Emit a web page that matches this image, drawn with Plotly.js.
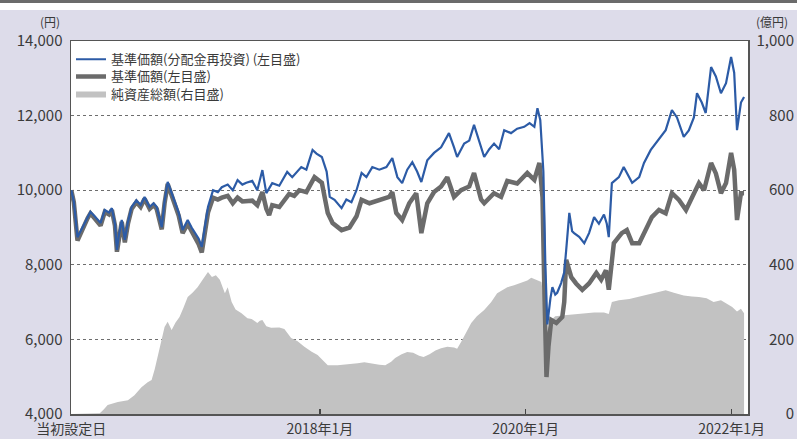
<!DOCTYPE html>
<html><head><meta charset="utf-8">
<script src="https://cdn.plot.ly/plotly-3.0.1.min.js"></script>
<style>
html,body{margin:0;padding:0;background:#fff;}
#wrap{width:797px;height:439px;overflow:hidden;}
#topline{height:3px;background:#6b6b6b;}
#gap{height:7px;background:#ffffff;}
#chart{width:797px;height:429px;}
</style></head>
<body>
<div id="wrap"><div id="topline"></div><div id="gap"></div><div id="chart"></div></div>
<script>
// 基準価額（分配金再投資）
const reinvDates = ['2015-08-03','2015-08-12','2015-08-25','2015-09-05','2015-09-15','2015-09-30','2015-10-10','2015-10-25','2015-11-05','2015-11-15','2015-11-30','2015-12-15','2015-12-25','2016-01-05','2016-01-12','2016-01-19','2016-01-29','2016-02-09','2016-02-20','2016-03-04','2016-03-21','2016-04-05','2016-04-19','2016-05-07','2016-05-21','2016-06-01','2016-06-19','2016-06-29','2016-07-10','2016-07-20','2016-08-04','2016-08-18','2016-09-01','2016-09-19','2016-10-03','2016-10-14','2016-10-28','2016-11-08','2016-11-19','2016-11-30','2016-12-18','2017-01-04','2017-01-18','2017-02-08','2017-02-26','2017-03-15','2017-04-01','2017-04-15','2017-05-06','2017-05-24','2017-06-11','2017-06-25','2017-07-16','2017-08-10','2017-09-07','2017-09-25','2017-10-27','2017-11-14','2017-12-06','2017-12-20','2018-01-08','2018-01-25','2018-02-05','2018-02-22','2018-03-19','2018-04-05','2018-04-23','2018-05-11','2018-05-29','2018-06-15','2018-07-06','2018-07-31','2018-08-25','2018-09-15','2018-10-03','2018-10-20','2018-11-07','2018-11-25','2018-12-12','2018-12-27','2019-01-17','2019-02-10','2019-03-07','2019-04-04','2019-04-22','2019-05-03','2019-05-28','2019-06-15','2019-07-02','2019-07-20','2019-08-07','2019-08-25','2019-09-11','2019-09-29','2019-10-17','2019-11-10','2019-12-02','2019-12-27','2020-01-15','2020-02-01','2020-02-12','2020-02-22','2020-03-04','2020-03-11','2020-03-18','2020-03-29','2020-04-05','2020-04-15','2020-04-22','2020-05-06','2020-05-17','2020-05-24','2020-06-04','2020-06-14','2020-06-21','2020-07-09','2020-07-27','2020-08-13','2020-08-31','2020-09-17','2020-10-05','2020-10-15','2020-10-22','2020-11-02','2020-11-27','2020-12-14','2021-01-03','2021-01-13','2021-02-07','2021-02-24','2021-03-20','2021-04-07','2021-04-25','2021-05-12','2021-06-03','2021-06-21','2021-07-15','2021-08-02','2021-08-20','2021-08-31','2021-09-17','2021-10-01','2021-10-20','2021-11-06','2021-11-24','2021-12-12','2021-12-30','2022-01-10','2022-01-20','2022-02-03','2022-02-14'];
const reinvNav = [10000,9700,8740,8900,9050,9300,9420,9300,9200,9120,9470,9400,9520,9100,8400,8800,9200,8670,9150,9550,9730,9600,9820,9550,9650,9550,9010,9700,10220,10000,9650,9400,8930,9200,9000,8850,8700,8480,9000,9550,10000,9950,10080,10150,10000,10270,10150,10200,10250,10000,10540,9920,10190,10120,10490,10350,10620,10550,11080,10980,10890,10500,9820,9740,9520,9750,9680,10000,10460,10350,10620,10550,10620,10860,10350,10190,10550,10750,10500,10220,10800,11000,11150,11530,11150,10890,11250,11330,11750,11330,10890,11100,11250,11100,11610,11530,11650,11700,11800,11700,12200,11880,10500,8000,6400,7100,7400,7200,7250,7510,7800,8400,9390,8900,8850,8750,8580,8850,9280,9100,9350,9100,8740,10190,10350,10620,10350,10200,10350,10730,11080,11250,11430,11610,12150,11950,11430,11600,11950,12600,12350,12070,13300,13050,12600,12870,13570,13150,11610,12350,12500];

// 基準価額
const navDates = ['2015-08-03','2015-08-12','2015-08-25','2015-09-05','2015-09-15','2015-09-30','2015-10-10','2015-10-25','2015-11-05','2015-11-15','2015-11-30','2015-12-15','2015-12-25','2016-01-05','2016-01-12','2016-01-19','2016-01-29','2016-02-09','2016-02-20','2016-03-04','2016-03-21','2016-04-05','2016-04-19','2016-05-07','2016-05-21','2016-06-01','2016-06-19','2016-06-29','2016-07-10','2016-07-20','2016-08-04','2016-08-18','2016-09-01','2016-09-19','2016-10-03','2016-10-14','2016-10-28','2016-11-08','2016-11-19','2016-11-30','2016-12-18','2017-01-04','2017-01-18','2017-02-08','2017-02-26','2017-03-15','2017-04-01','2017-04-15','2017-05-06','2017-05-24','2017-06-11','2017-06-25','2017-07-05','2017-07-16','2017-08-10','2017-09-14','2017-10-02','2017-10-20','2017-11-14','2017-12-13','2018-01-08','2018-01-29','2018-02-15','2018-03-19','2018-04-16','2018-05-11','2018-05-29','2018-06-26','2018-07-31','2018-09-04','2018-09-15','2018-09-29','2018-10-20','2018-11-14','2018-12-09','2018-12-27','2019-01-17','2019-02-10','2019-03-07','2019-03-29','2019-04-22','2019-05-17','2019-06-15','2019-07-02','2019-07-27','2019-08-07','2019-09-11','2019-10-06','2019-10-28','2019-12-02','2020-01-07','2020-02-01','2020-02-19','2020-03-01','2020-03-07','2020-03-15','2020-03-22','2020-04-01','2020-04-19','2020-05-10','2020-05-17','2020-05-24','2020-06-11','2020-06-28','2020-07-20','2020-08-13','2020-09-08','2020-09-25','2020-10-12','2020-10-22','2020-11-09','2020-12-07','2020-12-25','2021-01-13','2021-02-07','2021-03-03','2021-03-24','2021-04-18','2021-05-12','2021-06-03','2021-06-28','2021-07-23','2021-08-13','2021-09-07','2021-09-25','2021-10-20','2021-11-06','2021-11-24','2021-12-12','2021-12-30','2022-01-10','2022-01-20','2022-02-03','2022-02-14'];
const nav = [10000,9680,8650,8850,9000,9250,9380,9250,9150,9050,9420,9350,9470,9050,8350,8750,9150,8600,9100,9500,9680,9550,9770,9500,9600,9500,8950,9650,10170,9950,9600,9320,8850,9100,8900,8750,8550,8330,8850,9400,9800,9750,9800,9850,9650,9800,9700,9700,9720,9600,9950,9500,9330,9600,9550,9900,9850,10000,9950,10350,10200,9390,9120,8930,9000,9300,9740,9650,9740,9820,9950,9390,9200,9650,9920,8850,9650,9950,10100,10350,9820,10000,10100,10460,9750,9650,9920,9820,10250,10180,10460,10280,10730,9800,7500,4990,5800,6520,6440,6600,7000,8130,7670,7500,7330,7500,7780,7600,7850,7330,8580,8850,8930,8580,8580,8930,9280,9470,9380,9920,9740,9470,9800,10190,10000,10730,10450,9920,10190,11000,10550,9200,9920,9920];

// 純資産総額（億円）
const aumDates = ['2015-08-03','2015-11-12','2015-11-26','2015-12-10','2016-01-15','2016-02-20','2016-03-14','2016-04-08','2016-04-30','2016-05-14','2016-05-25','2016-06-05','2016-06-19','2016-06-29','2016-07-10','2016-07-24','2016-08-07','2016-08-21','2016-09-04','2016-09-19','2016-10-06','2016-10-24','2016-11-11','2016-11-30','2016-12-14','2016-12-28','2017-01-11','2017-01-29','2017-02-08','2017-02-22','2017-03-08','2017-03-29','2017-04-19','2017-05-04','2017-05-24','2017-06-02','2017-06-11','2017-06-25','2017-07-12','2017-08-10','2017-08-28','2017-09-11','2017-09-21','2017-10-14','2017-11-07','2017-12-03','2017-12-24','2018-01-14','2018-01-29','2018-03-05','2018-04-09','2018-05-15','2018-06-08','2018-07-03','2018-07-31','2018-08-21','2018-09-11','2018-09-25','2018-10-18','2018-11-07','2018-11-28','2018-12-19','2019-01-04','2019-01-25','2019-02-15','2019-03-07','2019-03-29','2019-04-22','2019-05-03','2019-05-17','2019-06-04','2019-06-22','2019-07-12','2019-08-07','2019-09-01','2019-09-22','2019-10-10','2019-10-28','2019-11-21','2019-12-16','2020-01-07','2020-01-21','2020-02-08','2020-02-26','2020-03-07','2020-03-18','2020-03-29','2020-04-15','2020-05-17','2020-06-21','2020-07-27','2020-08-31','2020-10-05','2020-10-22','2020-11-02','2020-11-27','2021-01-03','2021-02-07','2021-03-13','2021-04-18','2021-05-12','2021-06-10','2021-07-15','2021-08-13','2021-09-07','2021-10-04','2021-10-29','2021-11-24','2021-12-16','2022-01-03','2022-01-20','2022-02-03','2022-02-14'];
const aum = [0,2,12,24,32,37,50,72,85,91,120,153,200,233,247,225,245,260,285,314,325,340,360,381,367,372,360,324,340,300,280,270,257,255,244,250,252,235,231,232,228,215,204,195,180,167,158,142,131,131,133,136,139,135,132,131,140,150,160,166,164,156,153,160,170,176,180,178,175,193,220,244,262,279,300,324,332,340,345,351,358,365,360,354,300,220,250,262,265,268,270,272,272,268,300,305,308,315,322,328,332,325,318,315,314,310,300,305,295,287,275,282,270];

const xTickVals = ['2015-08-03','2018-01-01','2020-01-01','2022-01-01'];
const xTickText = ['当初設定日','2018年1月','2020年1月','2022年1月'];
const leftTickVals = [4000,6000,8000,10000,12000,14000];
const leftTickText = ['4,000','6,000','8,000','10,000','12,000','14,000'];
const rightTickVals = [0,200,400,600,800,1000];
const rightTickText = ['\u2008\u2007\u2007\u20070','\u2008\u2007200','\u2008\u2007400','\u2008\u2007600','\u2008\u2007800','1,000'];

const FONT = '"Noto Sans CJK JP", "Noto Sans", sans-serif';
const TXT = '#3a3a3a';

const traces = [
  {x: aumDates, y: aum, type:'scatter', mode:'lines', fill:'tozeroy', yaxis:'y',
   line:{width:0, color:'#c2c2c2'}, fillcolor:'#c2c2c2', name:'純資産総額(右目盛)', legend:'legend3'},
  {x: navDates, y: nav, type:'scatter', mode:'lines', yaxis:'y2',
   line:{width:4.5, color:'#6b6b6b'}, name:'基準価額(左目盛)', legend:'legend2'},
  {x: reinvDates, y: reinvNav, type:'scatter', mode:'lines', yaxis:'y2',
   line:{width:2.2, color:'#2c5ba6'}, name:'基準価額(分配金再投資) (左目盛)', legend:'legend'}
];

const legBase = {x:0.0, xanchor:'left', yanchor:'middle', bgcolor:'rgba(0,0,0,0)',
  font:{family:FONT, size:13, color:TXT}, itemwidth:30};

const layout = {
  width:797, height:429,
  margin:{l:71, r:49, t:31, b:25},
  paper_bgcolor:'#dddcea', plot_bgcolor:'#ffffff',
  font:{family:FONT, color:TXT},
  showlegend:true,
  legend: Object.assign({}, legBase, {y:0.951}),
  legend2: Object.assign({}, legBase, {y:0.905}),
  legend3: Object.assign({}, legBase, {y:0.859}),
  xaxis:{type:'date', range:['2015-08-02','2022-02-28'], tickvals:xTickVals, ticktext:xTickText,
    ticks:'inside', ticklen:5, tickcolor:'#444', tickwidth:1.5, showgrid:false, zeroline:false,
    showline:true, mirror:true, linecolor:'#555', linewidth:1.5, ticklabelstandoff:2,
    tickfont:{family:FONT, size:14, color:TXT}},
  yaxis:{side:'right', range:[0,1000], tickvals:rightTickVals, ticktext:rightTickText,
    showgrid:true, gridcolor:'#6e6e6e', griddash:'dot', gridwidth:1.2, zeroline:false,
    showline:true, linecolor:'#555', linewidth:1.5, ticks:'', ticklabelstandoff:4,
    tickfont:{family:FONT, size:15, color:TXT}},
  yaxis2:{overlaying:'y', side:'left', range:[4000,14000], tickvals:leftTickVals, ticktext:leftTickText,
    showgrid:false, zeroline:false, showline:true, linecolor:'#555', linewidth:1.5, ticks:'', ticklabelstandoff:4,
    tickfont:{family:FONT, size:15, color:TXT}},
  annotations:[
    {text:'(円)', xref:'paper', yref:'paper', x:-0.031, y:1.051, xanchor:'center', yanchor:'middle', showarrow:false,
     font:{family:FONT, size:12, color:TXT}},
    {text:'(億円)', xref:'paper', yref:'paper', x:1.0354, y:1.051, xanchor:'center', yanchor:'middle', showarrow:false,
     font:{family:FONT, size:12, color:TXT}}
  ]
};

Plotly.newPlot('chart', traces, layout, {staticPlot:true, displayModeBar:false});
</script>
</body></html>
